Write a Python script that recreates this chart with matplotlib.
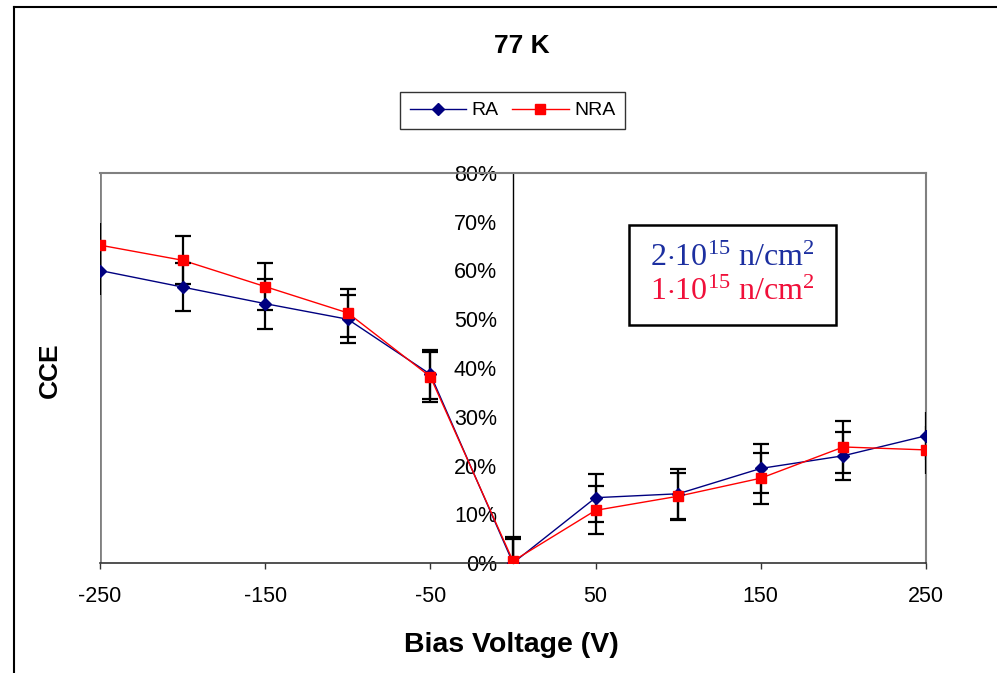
import matplotlib
matplotlib.use("Agg")
import matplotlib.pyplot as plt
from matplotlib.lines import Line2D
from matplotlib.patches import Rectangle
from matplotlib.ticker import FuncFormatter

plt.rcParams['font.family'] = ['Liberation Sans', 'DejaVu Sans']
plt.rcParams['axes.unicode_minus'] = False
plt.rcParams['mathtext.fontset'] = 'custom'
plt.rcParams['mathtext.rm'] = 'Liberation Serif'
plt.rcParams['mathtext.it'] = 'Liberation Serif:italic'

voltage = [-250, -200, -150, -100, -50, 0, 50, 100, 150, 200, 250]
ra = [0.600, 0.566, 0.532, 0.500, 0.387, 0.0, 0.134, 0.142, 0.194, 0.220, 0.261]
nra = [0.652, 0.621, 0.567, 0.513, 0.382, 0.004, 0.108, 0.137, 0.174, 0.238, 0.232]
ra_err = [0.050, 0.050, 0.051, 0.049, 0.050, 0.050, 0.049, 0.051, 0.051, 0.049, 0.049]
nra_err = [0.046, 0.049, 0.049, 0.049, 0.051, 0.049, 0.049, 0.048, 0.052, 0.053, 0.049]
xticks = [-250, -150, -50, 50, 150, 250]
yticks = [0, 0.1, 0.2, 0.3, 0.4, 0.5, 0.6, 0.7, 0.8]

W, H = 997, 673
fig = plt.figure(figsize=(W / 100, H / 100), dpi=100)
ax = fig.add_axes([100 / W, 1 - 563 / H, 826 / W, 390 / H])

blue = '#000080'
red = '#ff0000'

ax.plot(voltage, ra, color=blue, lw=1.0, zorder=2)
ax.plot(voltage, nra, color=red, lw=1.0, zorder=2)

n = len(voltage)
inner = list(range(1, n - 1))
edges = [0, n - 1]
for vals, errs in ((ra, ra_err), (nra, nra_err)):
    ax.errorbar([voltage[i] for i in inner], [vals[i] for i in inner],
                yerr=[errs[i] for i in inner], fmt='none', ecolor='black',
                elinewidth=1.6, capsize=5.6, capthick=1.6, zorder=3)
    ax.errorbar([voltage[i] for i in edges], [vals[i] for i in edges],
                yerr=[errs[i] for i in edges], fmt='none', ecolor='black',
                elinewidth=1.6, capsize=0, zorder=3)

ax.plot(voltage, ra, linestyle='none', marker='D', ms=6, color=blue, zorder=4, label='RA')
ax.plot(voltage, nra, linestyle='none', marker='s', ms=7.5, color=red, zorder=4, label='NRA')

ax.set_xlim(-250, 250)
ax.set_ylim(0, 0.8)
ax.set_xticks(xticks)
ax.set_yticks(yticks)
ax.yaxis.set_major_formatter(FuncFormatter(lambda v, p: f"{v*100:.0f}%"))

ax.spines['left'].set_position(('data', 0))
ax.spines['left'].set_color('black')
ax.spines['left'].set_linewidth(1.0)
for s in ('top', 'right'):
    ax.spines[s].set_color('#808080')
    ax.spines[s].set_linewidth(1.5)
ax.spines['bottom'].set_color('#333333')
ax.spines['bottom'].set_linewidth(1.2)
ax.axvline(-250, color='#808080', lw=2.0, zorder=1)

ax.tick_params(axis='y', length=0, pad=11.5, labelsize=15.5)
ax.tick_params(axis='x', length=4.5, width=1.0, color='#333333', pad=12, labelsize=15.5, direction='out')

# Legend
handles = [Line2D([], [], color=blue, marker='D', ms=6, lw=1.0),
           Line2D([], [], color=red, marker='s', ms=7.5, lw=1.0)]
leg = fig.legend(handles, ['RA', 'NRA'], loc='center',
                 bbox_to_anchor=(512.5 / W, 1 - 110.5 / H), ncol=2,
                 fontsize=14, frameon=True, fancybox=False, shadow=False,
                 handlelength=2.9, columnspacing=0.7, handletextpad=0.27,
                 borderpad=0.5)
leg.get_frame().set_edgecolor('black')
leg.get_frame().set_linewidth(1.0)

# Annotation box
fig.patches.append(Rectangle((629 / W, 1 - 325 / H), 207 / W, 100 / H,
                             transform=fig.transFigure, fill=False,
                             edgecolor='black', linewidth=1.8))
fig.text(732 / W, 1 - 258 / H, r'2$\cdot$10$^{15}$ n/cm$^{2}$', ha='center', va='center',
         fontsize=23, color='#1c2fa0', family='Liberation Serif')
fig.text(732 / W, 1 - 292 / H, r'1$\cdot$10$^{15}$ n/cm$^{2}$', ha='center', va='center',
         fontsize=23, color='#f0103a', family='Liberation Serif')

# Titles / labels
fig.text(522 / W, 1 - 46 / H, '77 K', ha='center', va='center', fontsize=19, fontweight='bold')
fig.text(511 / W, 1 - 645 / H, 'Bias Voltage (V)', ha='center', va='center', fontsize=20.5, fontweight='bold')
fig.text(50 / W, 1 - 370 / H, 'CCE', ha='center', va='center', rotation=90, fontsize=19, fontweight='bold')

# Outer frame lines
fig.add_artist(Line2D([14 / W, 14 / W], [0, 1 - 7 / H], color='black', lw=1.5, transform=fig.transFigure))
fig.add_artist(Line2D([14 / W, 1], [1 - 7 / H, 1 - 7 / H], color='black', lw=1.5, transform=fig.transFigure))

fig.savefig('out.png', dpi=100)
